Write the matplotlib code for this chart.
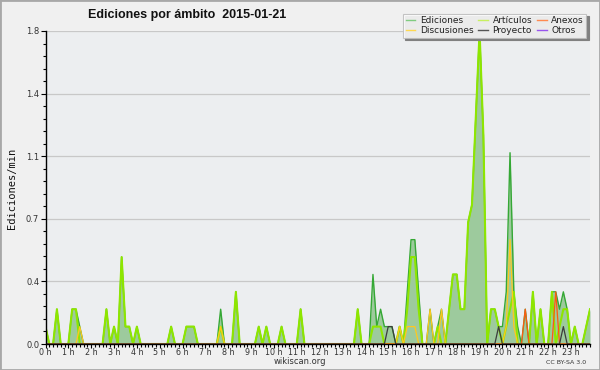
import matplotlib
matplotlib.use('Agg')
import matplotlib.pyplot as plt
import numpy as np
from matplotlib.ticker import MultipleLocator
from matplotlib.lines import Line2D
from matplotlib.patches import Rectangle

# 10-minute slots (144 per day), values in edits/min
ediciones = [
    0.1, 0, 0, 0.2, 0, 0, 0, 0.2, 0.2, 0.1, 0, 0,
    0, 0, 0, 0, 0.2, 0, 0.1, 0, 0.5, 0.1, 0.1, 0,
    0.1, 0, 0, 0, 0, 0, 0, 0, 0, 0.1, 0, 0,
    0, 0.1, 0.1, 0.1, 0, 0, 0, 0, 0, 0, 0.2, 0,
    0, 0, 0.3, 0, 0, 0, 0, 0, 0.1, 0, 0.1, 0,
    0, 0, 0.1, 0, 0, 0, 0, 0.2, 0, 0, 0, 0,
    0, 0, 0, 0, 0, 0, 0, 0, 0, 0, 0.2, 0,
    0, 0, 0.4, 0.1, 0.2, 0.1, 0.1, 0.1, 0, 0.1, 0, 0.3,
    0.6, 0.6, 0.3, 0, 0, 0.2, 0, 0.1, 0.2, 0, 0.2, 0.4,
    0.4, 0.2, 0.2, 0.7, 0.8, 1.3, 1.8, 1.2, 0, 0.2, 0.2, 0.1,
    0.1, 0.3, 1.1, 0.3, 0.1, 0, 0.2, 0, 0.3, 0, 0.2, 0,
    0, 0.3, 0.3, 0.2, 0.3, 0.2, 0, 0.1, 0, 0, 0.1, 0.2,
]
articulos = [
    0.1, 0, 0, 0.2, 0, 0, 0, 0.2, 0.2, 0, 0, 0,
    0, 0, 0, 0, 0.2, 0, 0.1, 0, 0.5, 0.1, 0.1, 0,
    0.1, 0, 0, 0, 0, 0, 0, 0, 0, 0.1, 0, 0,
    0, 0.1, 0.1, 0.1, 0, 0, 0, 0, 0, 0, 0.1, 0,
    0, 0, 0.3, 0, 0, 0, 0, 0, 0.1, 0, 0.1, 0,
    0, 0, 0.1, 0, 0, 0, 0, 0.2, 0, 0, 0, 0,
    0, 0, 0, 0, 0, 0, 0, 0, 0, 0, 0.2, 0,
    0, 0, 0.1, 0.1, 0.1, 0, 0, 0, 0, 0.1, 0, 0.2,
    0.5, 0.5, 0.2, 0, 0, 0, 0, 0.1, 0, 0, 0.2, 0.4,
    0.4, 0.2, 0.2, 0.7, 0.8, 1.3, 1.8, 1.2, 0, 0.2, 0.2, 0.1,
    0, 0.1, 0.2, 0.3, 0, 0, 0, 0, 0.3, 0, 0.2, 0,
    0, 0.3, 0, 0.1, 0.2, 0.2, 0, 0.1, 0, 0, 0.1, 0.2,
]
anexos = [
    0, 0, 0, 0, 0, 0, 0, 0, 0, 0, 0, 0,
    0, 0, 0, 0, 0, 0, 0, 0, 0, 0, 0, 0,
    0, 0, 0, 0, 0, 0, 0, 0, 0, 0, 0, 0,
    0, 0, 0, 0, 0, 0, 0, 0, 0, 0, 0, 0,
    0, 0, 0, 0, 0, 0, 0, 0, 0, 0, 0, 0,
    0, 0, 0, 0, 0, 0, 0, 0, 0, 0, 0, 0,
    0, 0, 0, 0, 0, 0, 0, 0, 0, 0, 0, 0,
    0, 0, 0, 0, 0, 0, 0, 0, 0, 0, 0, 0,
    0, 0, 0, 0, 0, 0, 0, 0, 0, 0, 0, 0,
    0, 0, 0, 0, 0, 0, 0, 0, 0, 0, 0, 0,
    0, 0, 0, 0, 0, 0, 0.2, 0, 0, 0, 0, 0,
    0, 0, 0.3, 0, 0, 0, 0, 0, 0, 0, 0, 0,
]
discusiones = [
    0, 0, 0, 0, 0, 0, 0, 0, 0, 0.1, 0, 0,
    0, 0, 0, 0, 0, 0, 0, 0, 0, 0, 0, 0,
    0, 0, 0, 0, 0, 0, 0, 0, 0, 0, 0, 0,
    0, 0, 0, 0, 0, 0, 0, 0, 0, 0, 0.1, 0,
    0, 0, 0, 0, 0, 0, 0, 0, 0, 0, 0, 0,
    0, 0, 0, 0, 0, 0, 0, 0, 0, 0, 0, 0,
    0, 0, 0, 0, 0, 0, 0, 0, 0, 0, 0, 0,
    0, 0, 0, 0, 0, 0, 0, 0, 0, 0.1, 0, 0.1,
    0.1, 0.1, 0, 0, 0, 0.2, 0, 0, 0.2, 0, 0, 0,
    0, 0, 0, 0, 0, 0, 0, 0, 0, 0, 0, 0,
    0, 0.1, 0.6, 0.1, 0, 0, 0, 0, 0, 0, 0, 0,
    0, 0, 0, 0, 0, 0, 0, 0, 0, 0, 0, 0,
]
proyecto = [
    0, 0, 0, 0, 0, 0, 0, 0, 0, 0, 0, 0,
    0, 0, 0, 0, 0, 0, 0, 0, 0, 0, 0, 0,
    0, 0, 0, 0, 0, 0, 0, 0, 0, 0, 0, 0,
    0, 0, 0, 0, 0, 0, 0, 0, 0, 0, 0, 0,
    0, 0, 0, 0, 0, 0, 0, 0, 0, 0, 0, 0,
    0, 0, 0, 0, 0, 0, 0, 0, 0, 0, 0, 0,
    0, 0, 0, 0, 0, 0, 0, 0, 0, 0, 0, 0,
    0, 0, 0, 0, 0, 0, 0.1, 0.1, 0, 0, 0, 0,
    0, 0, 0, 0, 0, 0, 0, 0, 0, 0, 0, 0,
    0, 0, 0, 0, 0, 0, 0, 0, 0, 0, 0, 0.1,
    0, 0, 0, 0, 0, 0, 0, 0, 0, 0, 0, 0,
    0, 0, 0, 0, 0.1, 0, 0, 0, 0, 0, 0, 0,
]
otros = [
    0, 0, 0, 0, 0, 0, 0, 0, 0, 0, 0, 0,
    0, 0, 0, 0, 0, 0, 0, 0, 0, 0, 0, 0,
    0, 0, 0, 0, 0, 0, 0, 0, 0, 0, 0, 0,
    0, 0, 0, 0, 0, 0, 0, 0, 0, 0, 0, 0,
    0, 0, 0, 0, 0, 0, 0, 0, 0, 0, 0, 0,
    0, 0, 0, 0, 0, 0, 0, 0, 0, 0, 0, 0,
    0, 0, 0, 0, 0, 0, 0, 0, 0, 0, 0, 0,
    0, 0, 0, 0, 0, 0, 0, 0, 0, 0, 0, 0,
    0, 0, 0, 0, 0, 0, 0, 0, 0, 0, 0, 0,
    0, 0, 0, 0, 0, 0, 0, 0, 0, 0, 0, 0,
    0, 0, 0, 0, 0, 0, 0, 0, 0, 0, 0, 0,
    0, 0, 0, 0, 0, 0, 0, 0, 0, 0, 0, 0,
]
hour_labels = [f"{h} h" for h in range(24)]
legend_labels = ["Ediciones", "Discusiones", "Artículos", "Proyecto", "Anexos", "Otros"]
title = "Ediciones por ámbito  2015-01-21"

x = np.arange(len(ediciones)) / 6.0  # hours

fig = plt.figure(figsize=(6, 3.7), dpi=100, facecolor='#f0f0f0')
fig.patches.append(Rectangle((0, 0), 1, 1, transform=fig.transFigure, fill=False,
                             edgecolor='#a8a8a8', lw=2.0))
ax = fig.add_axes([45.5 / 600, 26 / 370, 544.5 / 600, 313 / 370])
ax.set_facecolor('#eceef0')

ax.fill_between(x, 0, ediciones, color='#9dca9d', lw=0, zorder=2)
ax.plot(x, ediciones, color='#35a835', lw=1.0, zorder=3)
ax.plot(x, articulos, color='#8ee600', lw=1.5, zorder=4)
ax.plot(x, discusiones, color='#ffc81e', lw=0.9, zorder=5)
ax.plot(x, anexos, color='#ff5a10', lw=0.9, zorder=5)
ax.plot(x, proyecto, color='#3c3c3c', lw=0.9, zorder=5)
ax.plot(x, otros, color='#9933ff', lw=0.9, zorder=1, alpha=0)

ax.set_xlim(0, x[-1])
ax.set_ylim(0, 1.8)
yt = np.linspace(0, 1.8, 6)
ax.set_yticks(yt)
ax.set_yticklabels([f"{v:.1f}" for v in yt])
ax.yaxis.set_minor_locator(MultipleLocator(0.072))
ax.set_xticks(range(24))
ax.set_xticklabels(hour_labels)
ax.xaxis.set_minor_locator(MultipleLocator(1 / 6))
ax.yaxis.grid(True, color='#c8c8c8', lw=0.9)
ax.set_axisbelow(True)
for s in ['top', 'right']:
    ax.spines[s].set_visible(False)
for s in ['left', 'bottom']:
    ax.spines[s].set_color('black')
    ax.spines[s].set_linewidth(1.0)
    ax.spines[s].set_zorder(6)
ax.tick_params(axis='y', which='major', direction='out', length=3.5, width=0.8,
               labelsize=6, pad=1, colors='black', labelcolor='#333333')
ax.tick_params(axis='x', which='major', direction='out', length=3, width=0.8,
               labelsize=5.8, pad=0, colors='black', labelcolor='#333333')
ax.tick_params(axis='both', which='minor', direction='out', length=2.5, width=0.8)

fig.text(12 / 600, 1 - 188 / 370, 'Ediciones/min', rotation=90, ha='center', va='center',
         family='DejaVu Sans Mono', fontsize=7.5, color='#111111')
fig.text(187 / 600, 1 - 15 / 370, title, ha='center', va='center', fontsize=9,
         weight='bold', family=['Liberation Sans', 'DejaVu Sans'], color='#111111')
fig.text(300 / 600, 1 - 362 / 370, 'wikiscan.org', ha='center', va='center', fontsize=6,
         color='#333333')
fig.text(566 / 600, 1 - 362 / 370, 'CC BY-SA 3.0', ha='center', va='center', fontsize=4.5,
         color='#333333')

leg_colors = ['#80cc80', '#ffd850', '#c8f060', '#555555', '#ff8a50', '#9955ee']
handles = [Line2D([0], [0], color=c, lw=1.0) for c in leg_colors]
leg = fig.legend(handles, legend_labels, ncol=3, loc='upper right',
                 bbox_to_anchor=(591 / 600, 1 - 9 / 370), fontsize=6.5,
                 handlelength=1.1, handletextpad=0.5, columnspacing=0.5,
                 borderpad=0.3, labelspacing=0.1, frameon=True, fancybox=False,
                 shadow={'color': '#808080', 'alpha': 1.0, 'ox': 1.5, 'oy': -1.5},
                 framealpha=0.85)
leg.get_frame().set_edgecolor('#bbbbbb')
leg.get_frame().set_linewidth(0.8)
for t in leg.get_texts():
    t.set_color('#222222')

fig.savefig('out.png', dpi=100, facecolor=fig.get_facecolor())
